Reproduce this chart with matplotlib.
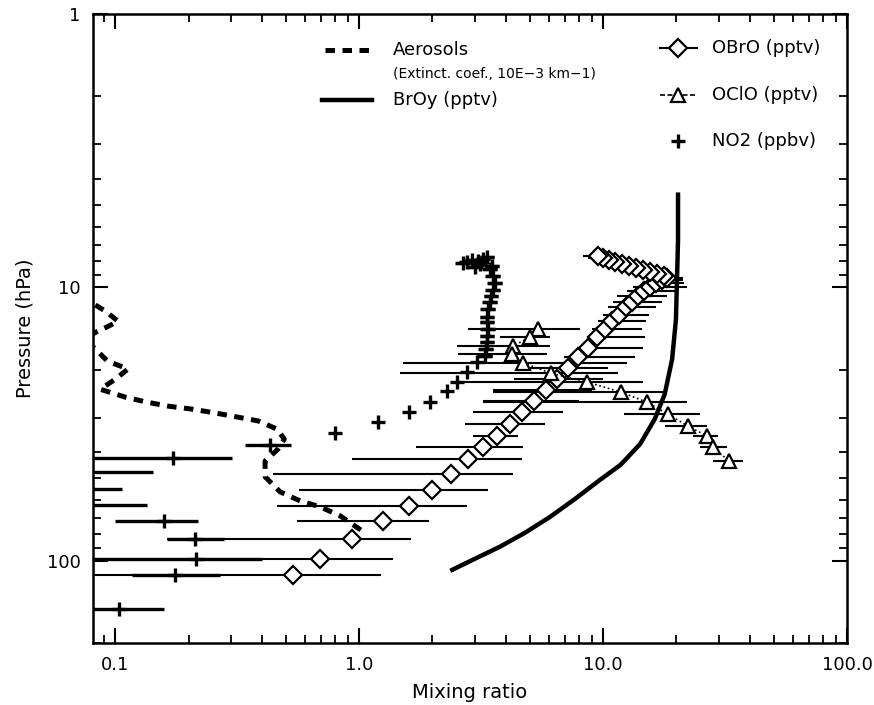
import matplotlib.pyplot as plt
from matplotlib.ticker import FixedLocator, FixedFormatter, LogLocator, NullFormatter

plt.rcParams['font.family'] = 'DejaVu Sans'

# axis ticks
xtick_vals = [0.1, 1.0, 10.0, 100.0]
xtick_labels = ["0.1", "1.0", "10.0", "100.0"]
ytick_vals = [1, 10, 100]
ytick_labels = ["1", "10", "100"]

# aerosol extinction profile (dashed)
aer_x = [0.083, 0.091, 0.103, 0.092, 0.082, 0.076, 0.083, 0.093, 0.113, 0.100, 0.087, 0.110,
         0.135, 0.165, 0.207, 0.257, 0.316, 0.386, 0.461, 0.494, 0.466, 0.412, 0.412, 0.475,
         0.573, 0.692, 0.836, 1.03]
aer_p = [11.6, 12.2, 13.3, 14.0, 14.7, 15.7, 16.8, 18.6, 19.9, 21.7, 23.6, 25.2,
         26.3, 27.2, 27.9, 28.8, 29.8, 30.8, 33.0, 35.9, 39.0, 43.2, 49.3, 56.0,
         60.4, 63.5, 68.5, 77.8]

# BrOy (solid)
broy_x = [2.41, 2.99, 3.78, 4.79, 6.07, 7.68, 9.72, 11.8, 14.2, 16.3, 17.9, 19.2, 19.9, 20.1,
          20.3, 20.3]
broy_p = [108, 98.3, 88.9, 79.0, 69.1, 59.4, 50.6, 44.6, 37.4, 30.3, 24.6, 18.3, 13.1, 9.35,
          6.68, 4.58]

# OBrO with error bars
obro_x = [0.536, 0.692, 0.936, 1.25, 1.60, 1.99, 2.38, 2.80, 3.22, 3.68, 4.16, 4.66, 5.21, 5.84,
          6.48, 7.19, 7.90, 8.68, 9.45, 10.2, 10.9, 11.6, 12.4, 13.2, 13.9, 14.7, 15.6, 16.5,
          17.5, 18.3,
          17.8, 16.6, 15.6, 14.6, 13.7, 12.8, 12.0, 11.2, 10.6, 10.0, 9.54]
obro_p = [113, 98.3, 83.1, 71.5, 63.0, 55.1, 48.1, 42.4, 38.4, 35.0, 31.6, 28.6, 26.1, 23.8,
          21.7, 19.8, 18.0, 16.6, 15.2, 14.2, 13.3, 12.6, 11.8, 11.3, 10.8, 10.3, 10.0, 9.67,
          9.43, 9.27,
          9.12, 8.97, 8.82, 8.67, 8.53, 8.38, 8.24, 8.11, 7.97, 7.84, 7.71]
obro_lo = [0.07, 0.07, 0.163, 0.557, 0.461, 0.568, 0.444, 0.936, 1.71, 2.93, 2.72, 2.93, 3.22, 3.54,
           4.3, 5.0, 6.9, 8.0, 8.6, 9.0, 9.5, 10.0, 10.5, 11.0, 11.4, 12.5, 13.3, 14.5,
           16.0, 16.5,
           15.5, 14.5, 13.6, 12.7, 11.9, 11.1, 10.4, 9.7, 9.2, 8.7, 8.3]
obro_hi = [1.23, 1.38, 1.63, 1.94, 2.77, 3.38, 4.28, 4.66, 4.70, 4.48, 5.79, 6.86, 8.0, 9.0,
           10.0, 10.5, 13.5, 14.6, 14.9, 14.5, 15.0, 15.5, 16.5, 17.5, 18.3, 20.0, 22.0, 21.5,
           21.3, 21.3,
           20.2, 18.9, 17.7, 16.6, 15.6, 14.5, 13.6, 12.7, 12.0, 11.4, 10.8]

# OClO with error bars
oclo_x = [5.42, 5.02, 4.28, 4.24, 4.70, 6.12, 8.60, 11.9, 15.1, 18.5, 22.3, 26.7, 28.2, 32.8]
oclo_p = [14.2, 15.2, 16.4, 17.6, 18.9, 20.6, 22.2, 24.2, 26.3, 29.1, 32.2, 35.0, 38.4, 43.2]
oclo_lo = [2.80, 3.78, 2.52, 2.55, 1.51, 1.47, 2.50, 3.54, 3.22, 12.2, 17.9, 23.4, 25.0, 28.2]
oclo_hi = [8.05, 6.07, 6.07, 5.90, 12.5, 11.5, 14.6, 17.6, 22.1, 25.0, 26.7, 29.6, 32.2, 37.5]

# NO2 with error bars
no2_x = [0.104, 0.176, 0.215, 0.213, 0.159, 0.075, 0.070, 0.075, 0.173, 0.432,
         0.797, 1.20, 1.60, 1.95, 2.30, 2.52, 2.77, 3.05,
         3.28, 3.31, 3.35, 3.35, 3.38, 3.35, 3.35, 3.38, 3.44, 3.48, 3.54, 3.61, 3.54, 3.44,
         3.13, 2.67, 2.77, 3.08, 2.91, 3.22, 3.35, 3.50, 3.00]
no2_p = [150, 113, 98.3, 83.1, 71.5, 62.5, 54.6, 47.3, 42.1, 37.7,
         34.1, 31.1, 28.6, 26.3, 24.0, 22.2, 20.4, 18.8,
         17.9, 16.8, 15.9, 15.1, 14.2, 13.4, 12.8, 12.0, 11.3, 10.8, 10.2, 9.6, 9.1, 8.6,
         8.24, 8.17, 8.11, 8.04, 7.97, 7.90, 7.77, 8.35, 8.45]
no2_lo = [0.07, 0.117, 0.07, 0.163, 0.100, 0.05, 0.05, 0.05, 0.07, 0.341,
          0.797, 1.20, 1.60, 1.95, 2.30, 2.52, 2.77, 3.05,
          3.05, 3.08, 3.12, 3.12, 3.14, 3.12, 3.12, 3.14, 3.20, 3.24, 3.29, 3.36, 3.29, 3.20,
          2.91, 2.48, 2.58, 2.86, 2.71, 3.00, 3.12, 3.26, 2.79]
no2_hi = [0.159, 0.27, 0.40, 0.28, 0.219, 0.135, 0.107, 0.143, 0.302, 0.526,
          0.797, 1.20, 1.60, 1.95, 2.30, 2.52, 2.77, 3.05,
          3.51, 3.54, 3.58, 3.58, 3.62, 3.58, 3.58, 3.62, 3.68, 3.72, 3.79, 3.86, 3.79, 3.68,
          3.35, 2.86, 2.96, 3.30, 3.11, 3.45, 3.58, 3.75, 3.21]


def xerr(x, lo, hi):
    return [[a - l for a, l in zip(x, lo)], [h - a for a, h in zip(x, hi)]]


fig = plt.figure(figsize=(8.74, 7.05), dpi=100)
ax = fig.add_axes([93 / 874, 1 - 643 / 705, 754 / 874, 629 / 705])
ax.set_xscale('log')
ax.set_yscale('log')

# error bars first, markers on top
ax.errorbar(obro_x, obro_p, xerr=xerr(obro_x, obro_lo, obro_hi), fmt='none',
            ecolor='k', elinewidth=1.5, capsize=0, zorder=2)
ax.errorbar(oclo_x, oclo_p, xerr=xerr(oclo_x, oclo_lo, oclo_hi), fmt='none',
            ecolor='k', elinewidth=1.5, capsize=0, zorder=2)
ax.errorbar(no2_x, no2_p, xerr=xerr(no2_x, no2_lo, no2_hi), fmt='+', color='k',
            ms=10.5, mew=2.4, elinewidth=2.4, capsize=0, zorder=3)

ax.plot(obro_x, obro_p, ls='none', marker='D', ms=8.7, mfc='white', mec='k', mew=1.6, zorder=4)
ax.plot(oclo_x, oclo_p, ls=':', lw=1.2, color='k', marker='^', ms=10, mfc='white',
        mec='k', mew=1.6, zorder=4)

ax.plot(broy_x, broy_p, color='k', lw=3.2, zorder=5)
ax.plot(aer_x, aer_p, color='k', lw=3.6, ls=(0, (1.9, 1.5)), zorder=5)

ax.set_xlim(0.0812, 100)
ax.set_ylim(200, 1)

ax.xaxis.set_major_locator(FixedLocator(xtick_vals))
ax.xaxis.set_major_formatter(FixedFormatter(xtick_labels))
ax.xaxis.set_minor_locator(LogLocator(base=10, subs=range(2, 10)))
ax.xaxis.set_minor_formatter(NullFormatter())
ax.yaxis.set_major_locator(FixedLocator(ytick_vals))
ax.yaxis.set_major_formatter(FixedFormatter(ytick_labels))
ax.yaxis.set_minor_locator(LogLocator(base=10, subs=range(2, 10)))
ax.yaxis.set_minor_formatter(NullFormatter())

ax.tick_params(which='major', direction='in', length=11, width=1.5, top=True, right=True,
               labelsize=13, pad=9)
ax.tick_params(which='minor', direction='in', length=5.5, width=1.3, top=True, right=True)
for s in ax.spines.values():
    s.set_linewidth(1.8)

ax.set_xlabel("Mixing ratio", fontsize=14, labelpad=7)
ax.set_ylabel("Pressure (hPa)", fontsize=14, labelpad=9)

# legend, drawn by hand in axes fraction
T = ax.transAxes
ax.plot([0.308, 0.374], [0.943, 0.943], transform=T, color='k', lw=3.6, ls=(0, (1.9, 1.5)))
ax.text(0.398, 0.943, "Aerosols", transform=T, fontsize=13, va='center')
ax.text(0.398, 0.905, "(Extinct. coef., 10E\u22123 km\u22121)", transform=T, fontsize=10, va='center')
ax.plot([0.304, 0.370], [0.863, 0.863], transform=T, color='k', lw=3.2)
ax.text(0.398, 0.863, "BrOy (pptv)", transform=T, fontsize=13, va='center')

ax.plot([0.752, 0.801], [0.946, 0.946], transform=T, color='k', lw=1.5)
ax.plot([0.7765], [0.946], transform=T, ls='none', marker='D', ms=8.7, mfc='white', mec='k', mew=1.6)
ax.text(0.821, 0.946, "OBrO (pptv)", transform=T, fontsize=13, va='center')
ax.plot([0.752, 0.801], [0.871, 0.871], transform=T, color='k', lw=1.2, ls=(0, (3, 1.5)))
ax.plot([0.7765], [0.871], transform=T, ls='none', marker='^', ms=10, mfc='white', mec='k', mew=1.6)
ax.text(0.821, 0.871, "OClO (pptv)", transform=T, fontsize=13, va='center')
ax.plot([0.7765], [0.798], transform=T, ls='none', marker='+', ms=10.5, mew=2.4, color='k')
ax.text(0.821, 0.798, "NO2 (ppbv)", transform=T, fontsize=13, va='center')

fig.savefig("out.png", dpi=100)
